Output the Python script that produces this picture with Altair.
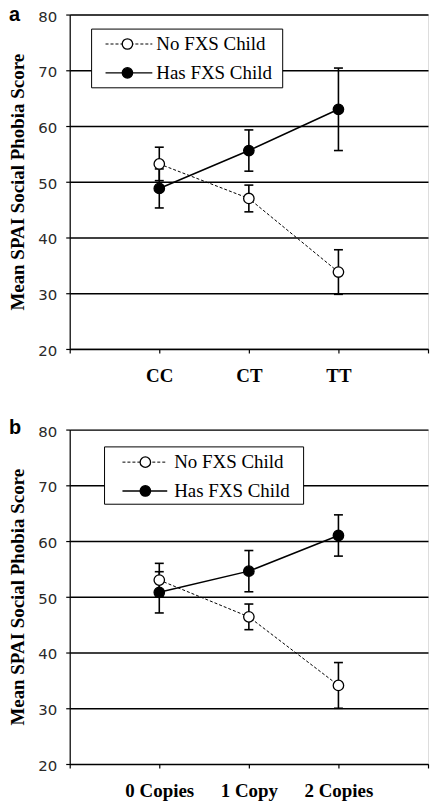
import altair as alt
import pandas as pd

# ---- data ----
series_names = ["No FXS Child", "Has FXS Child"]

cats_a = ["CC", "CT", "TT"]
no_mean_a = [53.2, 47.0, 33.8]
no_err_a = [3.0, 2.4, 4.0]
has_mean_a = [48.8, 55.6, 63.0]
has_err_a = [3.5, 3.7, 7.4]

cats_b = ["0 Copies", "1 Copy", "2 Copies"]
no_mean_b = [53.0, 46.4, 34.1]
no_err_b = [3.0, 2.3, 4.1]
has_mean_b = [50.8, 54.6, 61.0]
has_err_b = [3.7, 3.7, 3.7]

y_ticks = [20, 30, 40, 50, 60, 70, 80]
y_title = "Mean SPAI Social Phobia Score"

SERIF = "Liberation Serif"
SANS = "DejaVu Sans"
W, H = 360, 336


def build_df(cats, no_mean, no_err, has_mean, has_err):
    rows = []
    for i, c in enumerate(cats):
        rows.append(dict(pos=i + 1, cat=c, group=series_names[0], mean=no_mean[i],
                         lo=no_mean[i] - no_err[i], hi=no_mean[i] + no_err[i]))
    for i, c in enumerate(cats):
        rows.append(dict(pos=i + 1, cat=c, group=series_names[1], mean=has_mean[i],
                         lo=has_mean[i] - has_err[i], hi=has_mean[i] + has_err[i]))
    return pd.DataFrame(rows)


def panel(cats, no_mean, no_err, has_mean, has_err, letter, letter_y, lg):
    df = build_df(cats, no_mean, no_err, has_mean, has_err)
    label_expr = " : ".join(
        [f"datum.value == {i + 1} ? '{c}'" for i, c in enumerate(cats)]) + " : ''"

    xenc = alt.X("pos:Q", scale=alt.Scale(domain=[0, len(cats) + 1], nice=False, zero=False),
                 axis=alt.Axis(values=list(range(0, len(cats) + 2)), labelExpr=label_expr,
                               title=None, grid=False, domainColor="black", domainWidth=1.2,
                               tickColor="black", tickSize=4, tickWidth=1.2,
                               labelFont=SERIF, labelFontSize=19, labelFontWeight="bold",
                               labelColor="black", labelPadding=14))
    yscale = alt.Scale(domain=[20, 80], nice=False, zero=False)
    yaxis = alt.Axis(values=y_ticks, grid=True, gridColor="black", gridWidth=1.4,
                     domainColor="black", domainWidth=1.2, tickColor="black", tickSize=4,
                     tickWidth=1.2, labelFont=SANS, labelFontSize=15, labelColor="#2a2a2a",
                     labelPadding=9, labelOffset=1.5, title=y_title, titleFont=SERIF,
                     titleFontSize=19, titleFontWeight="bold", titleColor="black",
                     titlePadding=10)
    base = alt.Chart(df)
    no = base.transform_filter(alt.datum.group == series_names[0])
    has = base.transform_filter(alt.datum.group == series_names[1])

    line_no = no.mark_line(color="black", strokeWidth=1, strokeDash=[3, 2]).encode(
        x=xenc, y=alt.Y("mean:Q", scale=yscale, axis=yaxis))
    line_has = has.mark_line(color="black", strokeWidth=1.5).encode(
        x="pos:Q", y="mean:Q")
    err = base.mark_rule(color="black", strokeWidth=1.6).encode(
        x="pos:Q", y="lo:Q", y2="hi:Q")
    cap_lo = base.mark_rule(color="black", strokeWidth=1.6, xOffset=-4.5, x2Offset=4.5).encode(
        x="pos:Q", x2="pos:Q", y="lo:Q")
    cap_hi = base.mark_rule(color="black", strokeWidth=1.6, xOffset=-4.5, x2Offset=4.5).encode(
        x="pos:Q", x2="pos:Q", y="hi:Q")
    pt_no = no.mark_point(shape="circle", filled=True, size=110, fill="white",
                          stroke="black", strokeWidth=1.3, opacity=1).encode(
        x="pos:Q", y="mean:Q")
    pt_has = has.mark_point(shape="circle", filled=True, size=110, fill="black",
                            stroke="black", strokeWidth=1.3, opacity=1).encode(
        x="pos:Q", y="mean:Q")

    # legend (drawn by hand to reproduce the boxed line+marker key)
    one = alt.Chart(pd.DataFrame({"name": [series_names[0]]}))
    two = alt.Chart(pd.DataFrame({"name": [series_names[1]]}))
    box = one.mark_rect(fill="white", stroke="black", strokeWidth=1).encode(
        x=alt.value(lg["x0"]), x2=alt.value(lg["x1"]),
        y=alt.value(lg["y0"]), y2=alt.value(lg["y1"]))
    l1 = one.mark_rule(color="black", strokeWidth=1, strokeDash=[3, 2]).encode(
        x=alt.value(lg["lx0"]), x2=alt.value(lg["lx1"]), y=alt.value(lg["r1"]))
    l2 = two.mark_rule(color="black", strokeWidth=1.5).encode(
        x=alt.value(lg["lx0"]), x2=alt.value(lg["lx1"]), y=alt.value(lg["r2"]))
    m1 = one.mark_point(shape="circle", filled=True, size=110, fill="white",
                        stroke="black", strokeWidth=1.3, opacity=1).encode(
        x=alt.value(lg["mx"]), y=alt.value(lg["r1"]))
    m2 = two.mark_point(shape="circle", filled=True, size=110, fill="black",
                        stroke="black", strokeWidth=1.3, opacity=1).encode(
        x=alt.value(lg["mx"]), y=alt.value(lg["r2"]))
    t1 = one.mark_text(font=SERIF, fontSize=19, align="left", baseline="middle",
                       color="black").encode(
        x=alt.value(lg["tx"]), y=alt.value(lg["r1"]), text="name:N")
    t2 = two.mark_text(font=SERIF, fontSize=19, align="left", baseline="middle",
                       color="black").encode(
        x=alt.value(lg["tx"]), y=alt.value(lg["r2"]), text="name:N")
    let = one.mark_text(font="Liberation Sans", fontSize=20, fontWeight="bold",
                        align="left", baseline="alphabetic", color="black").encode(
        x=alt.value(-61), y=alt.value(letter_y), text=alt.value(letter))

    return alt.layer(line_no, line_has, err, cap_lo, cap_hi, pt_no, pt_has,
                     box, l1, l2, m1, m2, t1, t2, let).properties(width=W, height=H)


lg_a = dict(x0=22, x1=214, y0=14.6, y1=73.6, lx0=36, lx1=83, mx=58, tx=87, r1=29.6, r2=58.6)
lg_b = dict(x0=35, x1=235, y0=17.4, y1=75, lx0=53, lx1=98, mx=76, tx=105, r1=32.7, r2=61.7)

pa = panel(cats_a, no_mean_a, no_err_a, has_mean_a, has_err_a, "a", 6.3, lg_a)
pb = panel(cats_b, no_mean_b, no_err_b, has_mean_b, has_err_b, "b", 4, lg_b)

chart = alt.vconcat(pa, pb, spacing=30).properties(
    padding={"top": -6.3, "left": 0, "right": 0, "bottom": 0}).configure_view(
    stroke="black", strokeWidth=1.2).configure(background="white")

chart.save("out.html", embed_options={"renderer": "svg", "actions": False})
